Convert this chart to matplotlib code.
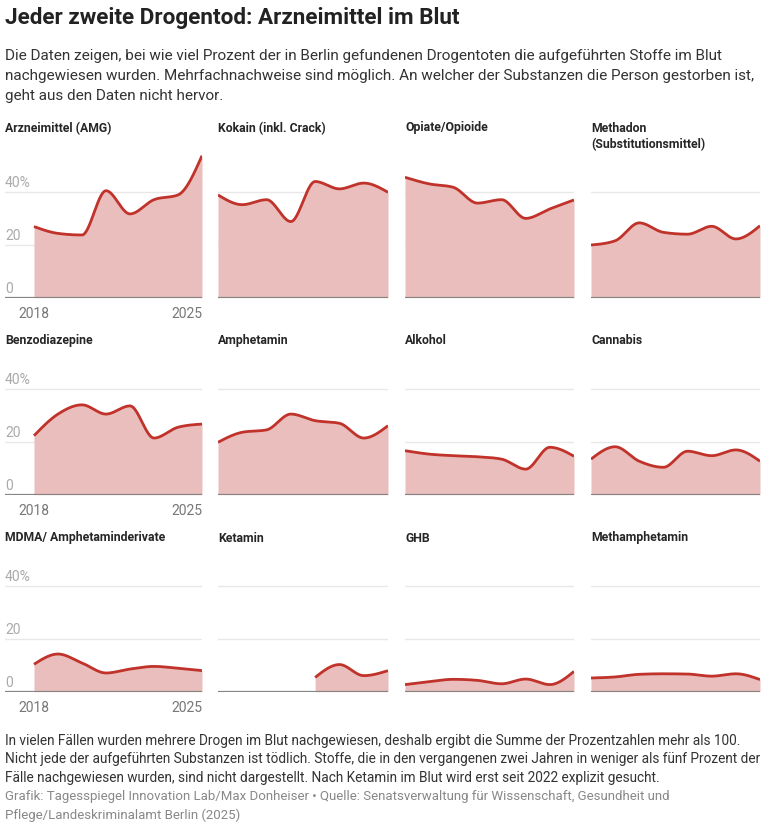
import numpy as np
import matplotlib.pyplot as plt

# -----------------------------
# Data (percent of drug deaths in Berlin)
# -----------------------------
years = [2018, 2019, 2020, 2021, 2022, 2023, 2024, 2025]

arzneimittel = [27.0, 24.4, 23.8, 40.6, 31.8, 37.2, 39.0, 53.9]
kokain = [39.0, 35.3, 37.2, 28.9, 44.1, 41.3, 43.5, 40.0]
opiate = [45.7, 43.2, 41.9, 35.9, 37.2, 30.1, 33.7, 37.1]
methadon = [20.0, 21.6, 28.4, 24.8, 24.1, 27.1, 22.3, 27.3]
benzodiazepine = [22.4, 30.6, 34.1, 30.6, 33.7, 21.5, 25.6, 26.8]
amphetamin = [19.9, 23.7, 24.6, 30.6, 28.1, 27.1, 21.5, 26.2]
alkohol = [16.7, 15.4, 14.8, 14.4, 13.5, 9.7, 18.0, 14.6]
cannabis = [13.5, 18.2, 12.7, 10.4, 16.5, 14.8, 17.0, 12.7]
mdma = [10.4, 14.3, 10.9, 7.1, 8.6, 9.6, 8.9, 8.0]
ketamin = [None, None, None, None, 5.4, 10.3, 6.1, 8.0]
ghb = [2.7, 3.8, 4.7, 4.3, 3.0, 4.8, 2.7, 7.7]
methamphetamin = [5.2, 5.6, 6.6, 6.8, 6.7, 5.9, 6.8, 4.6]

titles = ["Arzneimittel (AMG)", "Kokain (inkl. Crack)", "Opiate/Opioide",
          "Methadon\n(Substitutionsmittel)",
          "Benzodiazepine", "Amphetamin", "Alkohol", "Cannabis",
          "MDMA/ Amphetaminderivate", "Ketamin", "GHB", "Methamphetamin"]
series = [arzneimittel, kokain, opiate, methadon,
          benzodiazepine, amphetamin, alkohol, cannabis,
          mdma, ketamin, ghb, methamphetamin]

gridlines = [20, 40]
grid_labels = ["20", "40%"]

# -----------------------------
# Style
# -----------------------------
LINE = "#c0322a"
FILL = "#e9bebc"
plt.rcParams["font.family"] = ["Roboto", "DejaVu Sans"]

W, H = 771, 837
fig = plt.figure(figsize=(W / 100, H / 100), dpi=100)
fig.patch.set_facecolor("white")


def add_ax(left, top, width, height):
    return fig.add_axes([left / W, 1 - (top + height) / H, width / W, height / H])


def monotone(x, y, n=40):
    # monotone cubic (like d3.curveMonotoneX), only to draw a smooth path
    x = np.asarray(x, float)
    y = np.asarray(y, float)
    if len(x) < 3:
        return x, y
    h = np.diff(x)
    s = np.diff(y) / h
    m = np.zeros(len(x))
    for i in range(1, len(x) - 1):
        p = (s[i - 1] * h[i] + s[i] * h[i - 1]) / (h[i - 1] + h[i])
        m[i] = (np.sign(s[i - 1]) + np.sign(s[i])) * min(abs(s[i - 1]), abs(s[i]), 0.5 * abs(p))
    m[0] = (3 * s[0] - m[1]) / 2
    m[-1] = (3 * s[-1] - m[-2]) / 2
    xs, ys = [], []
    for i in range(len(x) - 1):
        t = np.linspace(0, 1, n, endpoint=False)
        h00 = 2 * t**3 - 3 * t**2 + 1
        h10 = t**3 - 2 * t**2 + t
        h01 = -2 * t**3 + 3 * t**2
        h11 = t**3 - t**2
        xs.append(x[i] + t * h[i])
        ys.append(h00 * y[i] + h10 * h[i] * m[i] + h01 * y[i + 1] + h11 * h[i] * m[i + 1])
    xs.append([x[-1]])
    ys.append([y[-1]])
    return np.concatenate(xs), np.concatenate(ys)


# -----------------------------
# Small multiples
# -----------------------------
col_left = [5, 218, 405, 591]
col_width = [197, 170, 169, 169]
row_base = [298.7, 495.7, 692.7]
row_title = [128, 341, 538]
ymax = 56
px_per_unit = 2.635
ax_h = ymax * px_per_unit

for k, (title, vals) in enumerate(zip(titles, series)):
    r, c = divmod(k, 4)
    ax = add_ax(col_left[c], row_base[r] - ax_h, col_width[c], ax_h)
    if c == 0:
        ax.set_xlim(2018 - 29 / 24, 2025)
    else:
        ax.set_xlim(2018, 2025)
    ax.set_ylim(0, ymax)
    ax.axis("off")

    for g in gridlines:
        ax.axhline(g, color="#e8e8e8", lw=1, zorder=1)

    xv = [yr for yr, v in zip(years, vals) if v is not None]
    yv = [v for v in vals if v is not None]
    sx, sy = monotone(xv, yv)
    ax.fill_between(sx, sy, 0, color=FILL, lw=0, zorder=2)
    ax.plot(sx, sy, color=LINE, lw=2, zorder=3, solid_capstyle="butt")
    ax.axhline(0, color="#858585", lw=1.6, zorder=4)

    if c == 0:
        for g, lab in zip([0] + gridlines, ["0"] + grid_labels):
            ax.text(0, g + 1.2, lab, transform=ax.get_yaxis_transform(),
                    ha="left", va="bottom", fontsize=10, color="#aaaaaa")
        ax.annotate("2018", (2018, 0), xytext=(0, -6), textcoords="offset points",
                    ha="center", va="top", fontsize=10, color="#777777")
        ax.annotate("2025", (2025, 0), xytext=(0, -6), textcoords="offset points",
                    ha="right", va="top", fontsize=10, color="#777777")

    fig.text(col_left[c] / W, 1 - (row_title[r] - 6.5) / H, title, ha="left", va="top",
             fontsize=8.8, fontweight="bold", color="#262626", linespacing=1.3)

# -----------------------------
# Title, subtitle, notes
# -----------------------------
fig.text(5 / W, 1 - 18 / H, "Jeder zweite Drogentod: Arzneimittel im Blut",
         ha="left", va="center", fontsize=16.2, fontweight="bold", color="#222222")
sub = ["Die Daten zeigen, bei wie viel Prozent der in Berlin gefundenen Drogentoten die aufgeführten Stoffe im Blut",
       "nachgewiesen wurden. Mehrfachnachweise sind möglich. An welcher der Substanzen die Person gestorben ist,",
       "geht aus den Daten nicht hervor."]
for i, line in enumerate(sub):
    fig.text(5 / W, 1 - (56 + 20 * i) / H, line, ha="left", va="center",
             fontsize=11, color="#333333")

notes = ["In vielen Fällen wurden mehrere Drogen im Blut nachgewiesen, deshalb ergibt die Summe der Prozentzahlen mehr als 100.",
         "Nicht jede der aufgeführten Substanzen ist tödlich. Stoffe, die in den vergangenen zwei Jahren in weniger als fünf Prozent der",
         "Fälle nachgewiesen wurden, sind nicht dargestellt. Nach Ketamin im Blut wird erst seit 2022 explizit gesucht."]
for i, line in enumerate(notes):
    fig.text(5 / W, 1 - (741 + 18.5 * i) / H, line, ha="left", va="center",
             fontsize=9.8, color="#333333")

source = ["Grafik: Tagesspiegel Innovation Lab/Max Donheiser \u2022 Quelle: Senatsverwaltung für Wissenschaft, Gesundheit und",
          "Pflege/Landeskriminalamt Berlin (2025)"]
for i, line in enumerate(source):
    fig.text(5 / W, 1 - (797 + 18 * i) / H, line, ha="left", va="center",
             fontsize=9.5, color="#888888")

fig.savefig("out.png", dpi=100, facecolor="white")
